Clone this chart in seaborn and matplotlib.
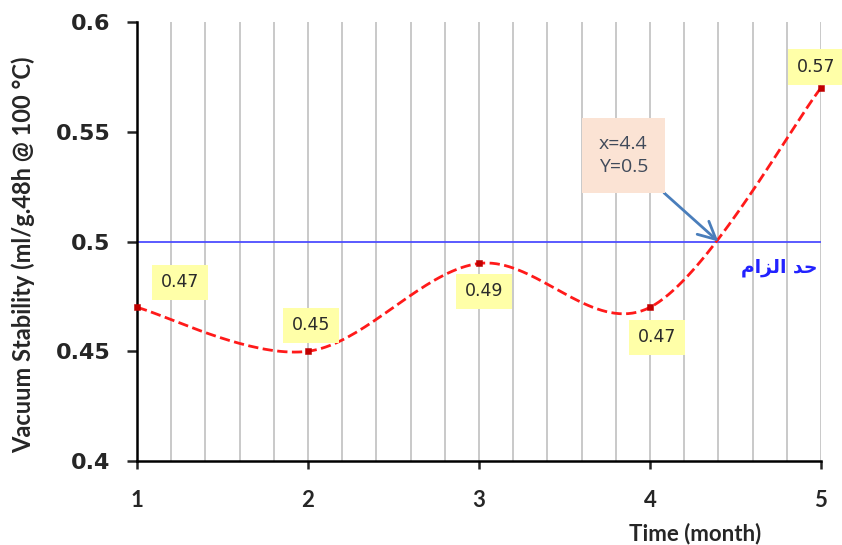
import numpy as np
import pandas as pd
import matplotlib
matplotlib.use('Agg')
import matplotlib.pyplot as plt
from matplotlib.ticker import MultipleLocator, FormatStrFormatter
import seaborn as sns

# datos
meses = [1, 2, 3, 4, 5]
estabilidad = [0.47, 0.45, 0.49, 0.47, 0.57]
limite = 0.5
cruce_x = 4.4
etiquetas = ['0.47', '0.45', '0.49', '0.47', '0.57']
texto_cruce = 'x=4.4\nY=0.5'
# "حد الزام" en formas de presentacion (orden visual) para que se vea unido
texto_limite = '\uFEE1\uFE8D\uFEB0\uFEDF\uFE8D \uFEAA\uFEA3'
y_ticks = [0.4, 0.45, 0.5, 0.55, 0.6]
x_ticks = [1, 2, 3, 4, 5]


# suavizado tipo Excel (bezier catmull-rom)
def suavizar(x, y, n=40):
    pts = np.column_stack([x, y]).astype(float)
    out = []
    for i in range(len(pts) - 1):
        p0 = pts[i - 1] if i > 0 else pts[i]
        p1, p2 = pts[i], pts[i + 1]
        p3 = pts[i + 2] if i + 2 < len(pts) else pts[i + 1]
        c1 = p1 + (p2 - p0) / 6
        c2 = p2 - (p3 - p1) / 6
        t = np.linspace(0, 1, n)[:, None]
        seg = (1 - t)**3 * p1 + 3 * (1 - t)**2 * t * c1 + 3 * (1 - t) * t**2 * c2 + t**3 * p2
        out.append(seg if i == 0 else seg[1:])
    return np.vstack(out)


curva = suavizar(meses, estabilidad)
df_curva = pd.DataFrame({'mes': curva[:, 0], 'vs': curva[:, 1]})
df = pd.DataFrame({'mes': meses, 'vs': estabilidad})

sns.set_style('white')
plt.rcParams['font.family'] = ['DejaVu Sans']

fig, ax = plt.subplots(figsize=(8.42, 5.45), dpi=100)
fig.subplots_adjust(left=0.1627, right=0.975, top=0.9596, bottom=0.1541)

ax.set_xlim(1, 5)
ax.set_ylim(0.4, 0.6)

# grilla vertical cada 0.2
ax.xaxis.set_minor_locator(MultipleLocator(0.2))
ax.grid(True, which='both', axis='x', color='#c0c0c0', linewidth=1.2)
ax.grid(False, axis='y')
ax.set_axisbelow(True)

ax.axhline(limite, color='#4d4dff', linewidth=1.3, zorder=2)

sns.lineplot(data=df_curva, x='mes', y='vs', sort=False, ax=ax, color='#ff1a1a',
             linewidth=2.0, linestyle='--', zorder=3)
sns.scatterplot(data=df, x='mes', y='vs', ax=ax, marker='s', s=22, color='#c00000',
                edgecolor='#c00000', zorder=4, clip_on=False)

offsets = [(43, 25), (3, 26), (5, -28), (7, -30), (-5, 21)]
for xm, yv, lab, off in zip(meses, estabilidad, etiquetas, offsets):
    ax.annotate(lab, (xm, yv), xytext=off, textcoords='offset pixels',
                ha='center', va='center', fontsize=12.5, color='#2a2a2a',
                bbox=dict(boxstyle='square,pad=0.5', fc='#ffffa8', ec='none'),
                zorder=5, annotation_clip=False)

ax.annotate(texto_cruce, (cruce_x, limite), xytext=(-95, 86), textcoords='offset pixels',
            ha='center', va='center', fontsize=14, color='#404a5a', family='Open Sans',
            linespacing=1.4,
            bbox=dict(boxstyle='square,pad=0.85', fc='#fbe3d4', ec='none'),
            arrowprops=dict(arrowstyle='->,head_length=0.9,head_width=0.45',
                            color='#4a7ebb', lw=2.0, relpos=(0.95, 0.0),
                            shrinkA=0, shrinkB=0),
            zorder=6)

ax.annotate(texto_limite, (5, limite), xytext=(-3, -26), textcoords='offset pixels',
            ha='right', va='center', fontsize=13.5, color='#2222ff', fontweight='bold')

ax.set_xticks(x_ticks)
ax.set_yticks(y_ticks)
ax.yaxis.set_major_formatter(FormatStrFormatter('%g'))
for lab in ax.get_yticklabels():
    lab.set_fontweight('bold')
    lab.set_fontsize(16)
for lab in ax.get_xticklabels():
    lab.set_fontweight('bold')
    lab.set_fontsize(16)
    lab.set_family('Lato')

ax.tick_params(axis='y', which='major', direction='out', length=7, width=1.8, pad=12, left=True)
ax.tick_params(axis='x', which='major', direction='out', length=6, width=1.8, pad=15, bottom=True)
ax.tick_params(axis='x', which='minor', length=0)

for s in ['top', 'right']:
    ax.spines[s].set_visible(False)
for s in ['left', 'bottom']:
    ax.spines[s].set_linewidth(1.8)
    ax.spines[s].set_color('black')

ax.set_xlabel('Time (month)', fontsize=16, fontweight='bold', family='Lato', va='center')
ax.xaxis.set_label_coords(0.816, -0.164)
ax.set_ylabel('Vacuum Stability (ml/g.48h @ 100 °C)', fontsize=17, fontweight='bold',
              family='Lato', va='center')
ax.yaxis.set_label_coords(-0.1667, 0.47)

plt.savefig('out.png', dpi=100)
